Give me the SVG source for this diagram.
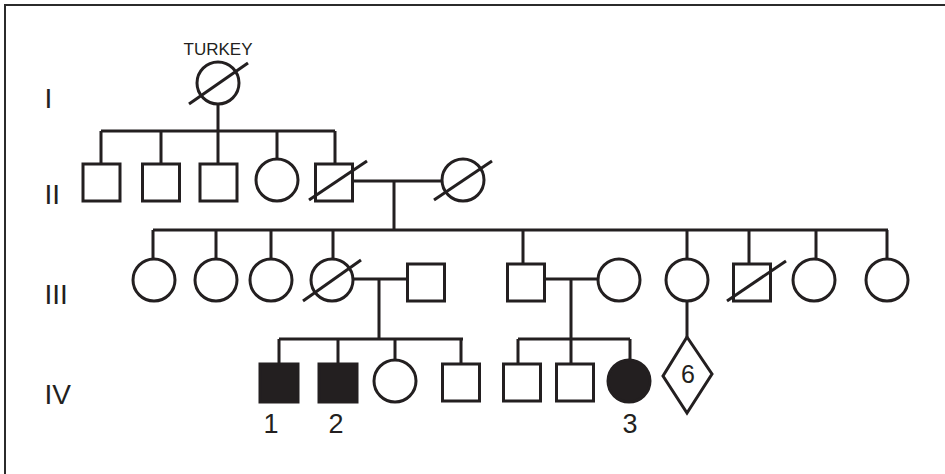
<svg xmlns="http://www.w3.org/2000/svg" width="945" height="474" viewBox="0 0 945 474">
<style>
.s{fill:#fff;stroke:#231f20;stroke-width:3}
.f{fill:#231f20;stroke:#231f20;stroke-width:3}
.l{fill:none;stroke:#231f20;stroke-width:3}
.t{font-family:"Liberation Sans",Arial,sans-serif;fill:#231f20}
.gen{font-size:28px}
.num{font-size:27px;text-anchor:middle}
</style>
<rect width="945" height="474" fill="#fff"/>
<path d="M5,474 V5 H945" fill="none" stroke="#2b2b2b" stroke-width="2"/>
<g id="gen-labels" class="t gen">
<text x="44.5" y="108">I</text>
<text x="44.5" y="204">II</text>
<text x="44.5" y="304">III</text>
<text x="44.5" y="404">IV</text>
</g>
<g id="connectors" class="l">
<path d="M218,104 V131 M101,131 H335 M101,131 V164 M161,131 V164 M218,131 V164 M277,131 V159 M335,131 V164"/>
<path d="M353,181 H442 M394,181 V230 M153,230 H888"/>
<path d="M153,230 V259 M216,230 V259 M271,230 V259 M333,230 V259 M523,230 V264 M687,230 V259 M749,230 V264 M816,230 V259 M887,230 V259"/>
<path d="M353,279 H407 M379,279 V339 M279,339 H463 M279,339 V364 M338,339 V364 M395,339 V360 M461,339 V364"/>
<path d="M545,279 H598 M571,279 V339 M518,339 H630 M518,339 V364 M571,339 V364 M630,339 V360"/>
<path d="M687,301 V337"/>
</g>
<g id="I-1"><text class="t" x="218" y="55" font-size="17" text-anchor="middle">TURKEY</text><circle class="s" cx="218" cy="83" r="21"/><line class="l" x1="189" y1="104" x2="248" y2="63"/></g>
<g id="II-1"><rect class="s" x="83" y="164" width="37" height="37"/></g>
<g id="II-2"><rect class="s" x="142.5" y="164" width="37" height="37"/></g>
<g id="II-3"><rect class="s" x="200" y="164" width="37" height="37"/></g>
<g id="II-4"><circle class="s" cx="277" cy="180" r="21"/></g>
<g id="II-5"><rect class="s" x="315.5" y="164" width="37" height="37"/><line class="l" x1="309" y1="200" x2="367" y2="161"/></g>
<g id="II-6"><circle class="s" cx="463" cy="180" r="21"/><line class="l" x1="434" y1="200" x2="492" y2="161"/></g>
<g id="III-1"><circle class="s" cx="154" cy="280" r="21"/></g>
<g id="III-2"><circle class="s" cx="216" cy="280" r="21"/></g>
<g id="III-3"><circle class="s" cx="271" cy="280" r="21"/></g>
<g id="III-4"><circle class="s" cx="332" cy="280" r="21"/><line class="l" x1="303" y1="301" x2="361" y2="260"/></g>
<g id="III-5"><rect class="s" x="407.5" y="264" width="37" height="37"/></g>
<g id="III-6"><rect class="s" x="507.5" y="264" width="37" height="37"/></g>
<g id="III-7"><circle class="s" cx="619" cy="280" r="21"/></g>
<g id="III-8"><circle class="s" cx="687" cy="280" r="21"/></g>
<g id="III-9"><rect class="s" x="733.5" y="264" width="37" height="37"/><line class="l" x1="727" y1="301" x2="786" y2="261"/></g>
<g id="III-10"><circle class="s" cx="814" cy="280" r="21"/></g>
<g id="III-11"><circle class="s" cx="887" cy="280" r="21"/></g>
<g id="IV-1"><rect class="f" x="260" y="364" width="38" height="38"/><text class="t num" x="271" y="433">1</text></g>
<g id="IV-2"><rect class="f" x="319" y="364" width="38" height="38"/><text class="t num" x="336" y="433">2</text></g>
<g id="IV-3"><circle class="s" cx="395" cy="381" r="21"/></g>
<g id="IV-4"><rect class="s" x="442.5" y="364" width="37" height="37"/></g>
<g id="IV-5"><rect class="s" x="503.5" y="364" width="37" height="37"/></g>
<g id="IV-6"><rect class="s" x="556.5" y="364" width="37" height="37"/></g>
<g id="IV-7"><circle class="f" cx="629" cy="381" r="21"/><text class="t num" x="630" y="433">3</text></g>
<g id="IV-8"><polygon class="s" points="687,337 712,374 687,413 663,376"/><text class="t" x="688" y="383" font-size="25" text-anchor="middle">6</text></g>
</svg>
